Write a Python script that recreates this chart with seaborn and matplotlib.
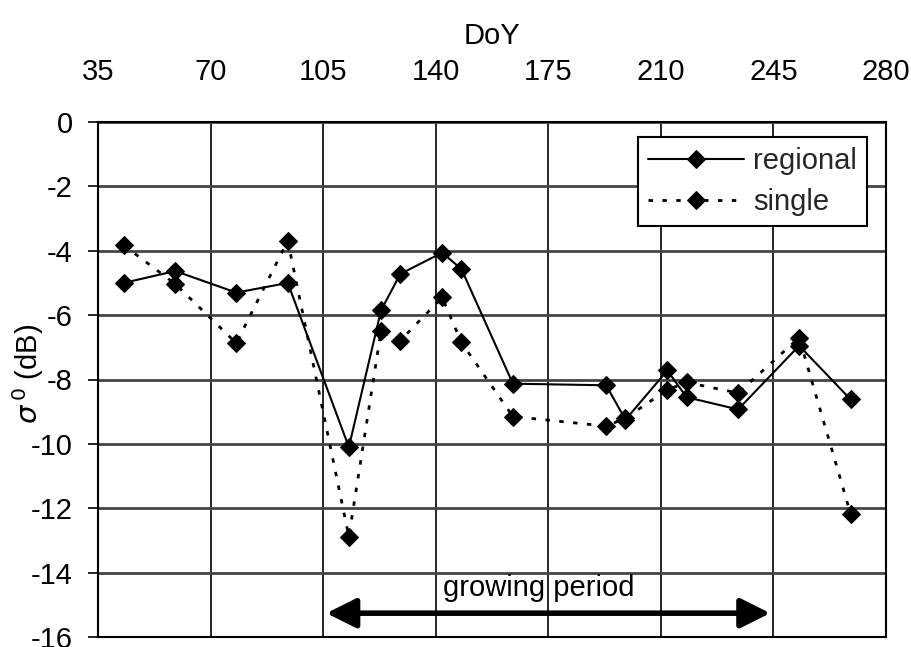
import matplotlib
matplotlib.use("Agg")
import matplotlib.pyplot as plt
import seaborn as sns
import pandas as pd

doy = [43, 59, 78, 94, 113, 123, 129, 142, 148, 164, 193, 199, 212, 218, 234, 253, 269]
regional = [-5.0, -4.63, -5.3, -5.0, -10.1, -5.85, -4.72, -4.06, -4.57, -8.13, -8.18, -9.25,
            -7.72, -8.55, -8.93, -6.95, -8.62]
single = [-3.83, -5.03, -6.87, -3.69, -12.88, -6.49, -6.79, -5.45, -6.85, -9.15, -9.45, -9.2,
          -8.32, -8.09, -8.42, -6.7, -12.18]
x_ticks = [35, 70, 105, 140, 175, 210, 245, 280]
y_ticks = [0, -2, -4, -6, -8, -10, -12, -14, -16]
growing_period = (106, 244)

sns.set_theme(style="white")
plt.rcParams['font.family'] = ['Liberation Sans', 'DejaVu Sans']
plt.rcParams['mathtext.fontset'] = 'dejavusans'

FS = 21

df = pd.DataFrame({"DoY": doy * 2,
                   "sigma": regional + single,
                   "series": ["regional"] * len(doy) + ["single"] * len(doy)})

fig = plt.figure(figsize=(9.12, 6.47), dpi=100)
ax = fig.add_axes([98 / 912, 1 - 637 / 647, (886 - 98) / 912, (637 - 122) / 647])

sns.lineplot(data=df[df.series == "regional"], x="DoY", y="sigma", ax=ax, color="black",
             marker="D", markersize=9.5, markeredgecolor="black", lw=1.5,
             label="regional", zorder=5)
sns.lineplot(data=df[df.series == "single"], x="DoY", y="sigma", ax=ax, color="black",
             marker="D", markersize=9.5, markeredgecolor="black", lw=2.0,
             linestyle=(0, (1.6, 3.4)), label="single", zorder=4)

ax.set_xlim(35, 280)
ax.set_ylim(-16, 0)
ax.set_xticks(x_ticks)
ax.set_yticks(y_ticks)
ax.set_xticklabels([str(v) for v in x_ticks])
ax.set_yticklabels([str(v) for v in y_ticks])

ax.xaxis.tick_top()
ax.xaxis.set_label_position("top")
ax.tick_params(axis="x", length=0, pad=26, labelsize=FS, colors="black")
ax.tick_params(axis="y", direction="out", length=7, width=1.2, pad=11, labelsize=FS,
               colors="black", left=True)
ax.set_xlabel("DoY", fontsize=FS, labelpad=10, color="black")
ax.set_ylabel(r"$\sigma^{\,0}$ (dB)", fontsize=FS, color="black")
ax.yaxis.set_label_coords(-0.066, 0.51)

for xv in x_ticks:
    ax.axvline(xv, color="black", lw=1.2, zorder=1)
for yv in y_ticks:
    ax.axhline(yv, color="#444444", lw=2.0, zorder=1)

for s in ax.spines.values():
    s.set_color("black")
    s.set_linewidth(1.5)

ax.annotate("", xy=(growing_period[0], -15.26), xytext=(growing_period[1], -15.26),
            arrowprops=dict(arrowstyle="<|-|>,head_length=0.9,head_width=0.45",
                            color="black", lw=4, mutation_scale=20,
                            shrinkA=0, shrinkB=0), zorder=6)
ax.text(172, -14.74, "growing period", fontsize=FS, ha="center", va="baseline",
        color="black", zorder=6)

leg = ax.legend(loc="upper right", bbox_to_anchor=(0.976, 0.9715), fontsize=FS,
                frameon=True, fancybox=False, shadow=False, handlelength=3.3,
                borderpad=0.35, labelspacing=0.45, handletextpad=0.3, borderaxespad=0)
leg.get_frame().set_edgecolor("black")
leg.get_frame().set_linewidth(1.5)
leg.get_frame().set_alpha(1)

fig.savefig("out.png", dpi=100)
